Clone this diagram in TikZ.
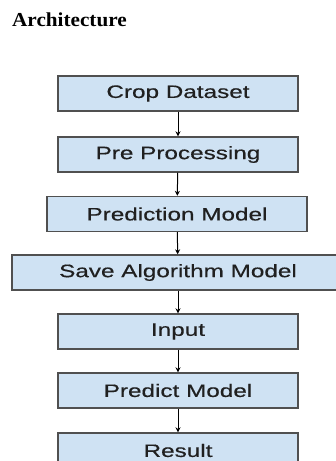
\documentclass[tikz,border=0pt]{standalone}
\usepackage{fontspec}
\setmainfont{Liberation Serif}
\newfontfamily\stagefont[FakeStretch=1.35,FakeBold=0.4]{Liberation Sans}
\newfontfamily\headfont[FakeStretch=1.07]{Liberation Serif}
\usetikzlibrary{arrows.meta}
\definecolor{stagefill}{RGB}{207,226,243}
\definecolor{stageline}{RGB}{80,80,80}
\definecolor{stagetext}{RGB}{32,32,32}

\begin{document}
\begin{tikzpicture}[x=1pt,y=-1pt]
% Estilos
\tikzset{
  stage/.style={rectangle, draw=stageline, line width=1.4pt, fill=stagefill, text=stagetext, minimum width=240pt, minimum height=35pt, inner sep=0pt, font=\stagefont\fontsize{18}{20}\selectfont},
  link/.style={-{Stealth[length=5pt,width=5pt]}, line width=1pt, black}
}
\useasboundingbox (0,0) rectangle (336,461);
\clip (0,0) rectangle (336,461);

% Titulo
\node[anchor=base west, inner sep=0pt, font=\headfont\bfseries\fontsize{19.8}{22}\selectfont] (title) at (12,26) {Architecture};

% Etapas
\node[stage] (dataset) at (178,93.5) {Crop Dataset};
\node[stage] (prep) at (178,154.5) {Pre Processing};
\node[stage, minimum width=260pt] (predmodel) at (177,214) {Prediction Model\hspace{24pt}};
\node[stage, minimum width=332pt] (savealg) at (178,272.5) {Save Algorithm Model\hspace{41pt}};
\node[stage] (input) at (178,331.5) {Input};
\node[stage] (predict) at (178,390.5) {Predict Model};
\node[stage] (result) at (178,450.5) {Result};

% Setas
\draw[link] (dataset) -- (prep);
\draw[link] (prep) -- (predmodel);
\draw[link] (predmodel) -- (savealg);
\draw[link] (savealg) -- (input);
\draw[link] (input) -- (predict);
\draw[link] (predict) -- (result);

\end{tikzpicture}
\end{document}
